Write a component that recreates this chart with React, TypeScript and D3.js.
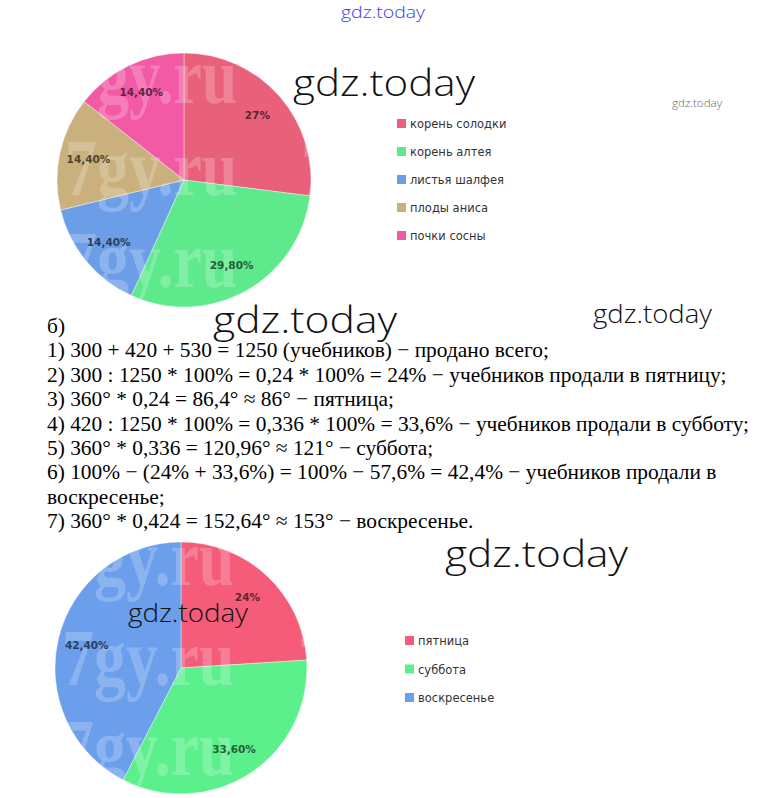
import React from "react";
import * as d3 from "d3";

// top chart: raw materials share (%)
const herbLabels = ["корень солодки", "корень алтея", "листья шалфея", "плоды аниса", "почки сосны"];
const herbValues = [27, 29.8, 14.4, 14.4, 14.4];
const herbColors = ["#e9607a", "#5eea8c", "#6c9ee8", "#c9b07c", "#f25aa6"];

// bottom chart: textbooks sold by day (%)
const dayLabels = ["пятница", "суббота", "воскресенье"];
const dayValues = [24, 33.6, 42.4];
const dayColors = ["#f45c7a", "#5cf08c", "#6b9eeb"];

const solutionLines = [
  "б)",
  "1) 300 + 420 + 530 = 1250 (учебников) − продано всего;",
  "2) 300 : 1250 * 100% = 0,24 * 100% = 24% − учебников продали в пятницу;",
  "3) 360° * 0,24 = 86,4° ≈ 86° − пятница;",
  "4) 420 : 1250 * 100% = 0,336 * 100% = 33,6% − учебников продали в субботу;",
  "5) 360° * 0,336 = 120,96° ≈ 121° − суббота;",
  "6) 100% − (24% + 33,6%) = 100% − 57,6% = 42,4% − учебников продали в",
  "воскресенье;",
  "7) 360° * 0,424 = 152,64° ≈ 153° − воскресенье.",
];

const fmt = (v: number) =>
  Number.isInteger(v) ? `${v}%` : `${v.toFixed(2).replace(".", ",")}%`;

interface PieProps {
  id: string;
  cx: number;
  cy: number;
  r: number;
  labels: string[];
  values: number[];
  colors: string[];
  legendX: number;
  legendY: number;
  legendStep: number;
  markRows: number[];
}

function Pie({ id, cx, cy, r, labels, values, colors, legendX, legendY, legendStep, markRows }: PieProps) {
  const data = values.map((v, i) => ({ label: labels[i], value: v, color: colors[i] }));
  const pie = d3.pie<(typeof data)[number]>().value((d) => d.value).sort(null);
  const arcs = pie(data);
  const arc = d3.arc<d3.PieArcDatum<(typeof data)[number]>>().innerRadius(0).outerRadius(r);
  const labelArc = d3
    .arc<d3.PieArcDatum<(typeof data)[number]>>()
    .innerRadius(r * 0.77)
    .outerRadius(r * 0.77);

  return (
    <g>
      <defs>
        <clipPath id={id}>
          <circle cx={cx} cy={cy} r={r} />
        </clipPath>
      </defs>
      <g transform={`translate(${cx},${cy})`}>
        {arcs.map((a, i) => (
          <path key={i} d={arc(a) || ""} fill={a.data.color} stroke="#ffffff" strokeOpacity={0.5} strokeWidth={0.8} />
        ))}
      </g>
      {/* 7gy.ru watermark over the pie */}
      <g clipPath={`url(#${id})`} fill="#ffffff" fillOpacity={0.22}>
        {markRows.map((y, i) =>
          [0, 236].map((dx) => (
            <text
              key={`${i}-${dx}`}
              transform={`translate(${cx - 119 + dx},${cy + y}) scale(1,1.25)`}
              fontFamily="Liberation Serif"
              fontWeight="bold"
              fontSize={64}
            >
              7gy.ru
            </text>
          ))
        )}
      </g>
      <g transform={`translate(${cx},${cy})`}>
        {arcs.map((a, i) => {
          const [x, y] = labelArc.centroid(a);
          return (
            <text
              key={i}
              x={x}
              y={y}
              dy="0.35em"
              textAnchor="middle"
              fontFamily="DejaVu Sans"
              fontWeight="bold"
              fontSize={10.5}
              fill={d3.color(a.data.color)!.darker(2.6).formatHex()}
            >
              {fmt(a.data.value)}
            </text>
          );
        })}
      </g>
      <g transform={`translate(${legendX},${legendY})`}>
        {data.map((d, i) => (
          <g key={i} transform={`translate(0,${i * legendStep})`}>
            <rect x={0} y={-5} width={9} height={9} fill={d.color} />
            <text x={13} y={0} dy="0.35em" fontFamily="DejaVu Sans" fontSize={11.5} fill="#333333">
              {d.label}
            </text>
          </g>
        ))}
      </g>
    </g>
  );
}

function Mark({ x, y, w, size, fill = "#111111" }: { x: number; y: number; w: number; size: number; fill?: string }) {
  return (
    <text
      x={x}
      y={y}
      fontFamily="Open Sans"
      fontWeight={300}
      fontSize={size}
      fill={fill}
      textLength={w}
      lengthAdjust="spacingAndGlyphs"
    >
      gdz.today
    </text>
  );
}

export default function App() {
  const W = 765;
  const H = 798;
  return (
    <svg
      width={W}
      height={H}
      viewBox={`0 0 ${W} ${H}`}
      style={{ position: "absolute", left: 0, top: 0, background: "#ffffff" }}
    >
      <rect width={W} height={H} fill="#ffffff" />
      <Pie
        id="clipTop"
        cx={184}
        cy={180}
        r={127}
        labels={herbLabels}
        values={herbValues}
        colors={herbColors}
        legendX={397}
        legendY={124}
        legendStep={28}
        markRows={[-77, 15, 107]}
      />
      <Pie
        id="clipBottom"
        cx={181}
        cy={668}
        r={126}
        labels={dayLabels}
        values={dayValues}
        colors={dayColors}
        legendX={405}
        legendY={641}
        legendStep={28.5}
        markRows={[-83, 17, 107]}
      />
      <g fontFamily="Liberation Serif" fontSize={21.4} fill="#000000">
        {solutionLines.map((t, i) => (
          <text key={i} x={47} y={333 + i * 24.4}>
            {t}
          </text>
        ))}
      </g>
      <Mark x={341} y={18} w={84} size={17} fill="#3a3ae6" />
      <Mark x={293} y={96} w={182} size={36} />
      <Mark x={672} y={107} w={50} size={11} fill="#666666" />
      <Mark x={213} y={333} w={184} size={36} />
      <Mark x={593} y={323} w={119} size={25} />
      <Mark x={445} y={567} w={183} size={36} />
      <Mark x={128} y={622} w={120} size={25} />
    </svg>
  );
}
